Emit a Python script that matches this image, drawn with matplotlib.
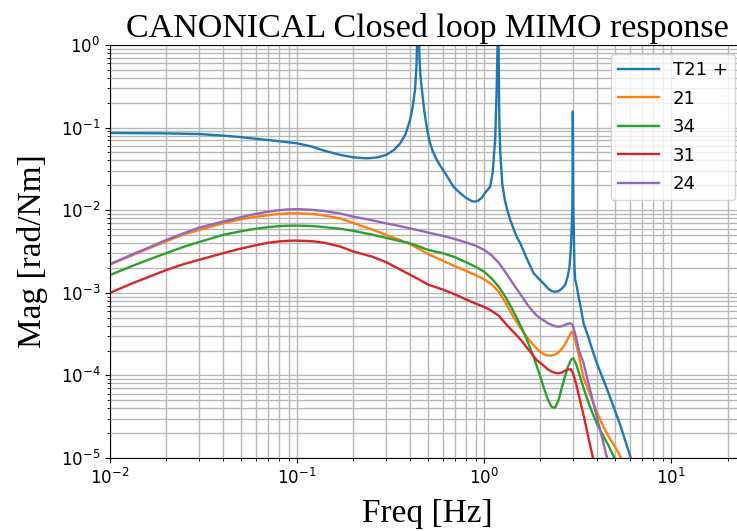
import numpy as np
import matplotlib
matplotlib.use("Agg")
import matplotlib.pyplot as plt

# values: freq in Hz, magnitude read as
# decades on the log axis (log10 of rad/Nm)
f_t21 = [0.01, 0.02, 0.03, 0.04, 0.05, 0.06, 0.07, 0.08, 0.1, 0.12, 0.14, 0.17, 0.2, 0.236,
         0.27, 0.3, 0.33, 0.356, 0.38, 0.402, 0.415, 0.427, 0.435, 0.44, 0.443, 0.447, 0.452,
         0.457, 0.465, 0.47, 0.48, 0.494, 0.51, 0.53, 0.555, 0.582, 0.63, 0.685, 0.75, 0.8, 0.85,
         0.886, 0.93, 0.97, 1.02, 1.077, 1.11, 1.145, 1.165, 1.18, 1.19, 1.195, 1.205, 1.22, 1.25,
         1.29, 1.33, 1.38, 1.45, 1.5, 1.56, 1.65, 1.75, 1.84, 1.99, 2.1, 2.2, 2.3, 2.4, 2.5, 2.6,
         2.71, 2.8, 2.86, 2.9, 2.93, 2.96, 2.975, 2.98, 2.99, 3.0, 3.04, 3.07, 3.13, 3.2, 3.3, 3.4,
         3.6, 3.8, 4.0, 4.3, 4.6, 4.92, 5.3, 5.7, 6.08, 6.6]
t21_dec = [-1.065, -1.07, -1.078, -1.097, -1.115, -1.135, -1.15, -1.165, -1.19, -1.23, -1.28,
           -1.33, -1.36, -1.372, -1.36, -1.33, -1.27, -1.19, -1.08, -0.906, -0.75, -0.545, -0.25,
           0.2, 1.0, 0.2, -0.2, -0.38, -0.545, -0.64, -0.82, -1.0, -1.16, -1.28, -1.38, -1.46,
           -1.58, -1.715, -1.8, -1.85, -1.885, -1.897, -1.885, -1.85, -1.78, -1.715, -1.55, -1.15,
           -0.6, 0.0, 1.0, 0.0, -0.9, -1.3, -1.68, -1.877, -2.0, -2.119, -2.25, -2.33, -2.4,
           -2.53, -2.66, -2.764, -2.845, -2.9, -2.95, -2.98, -2.987, -2.98, -2.95, -2.906, -2.8,
           -2.684, -2.5, -2.28, -2.0, -1.5, -0.807, -1.5, -2.0, -2.684, -2.845, -2.926, -3.05,
           -3.2, -3.37, -3.53, -3.7, -3.85, -4.03, -4.2, -4.38, -4.58, -4.8, -5.0, -5.25]

f_hump = [0.01, 0.013, 0.016, 0.02, 0.025, 0.03, 0.04, 0.05, 0.06, 0.07, 0.08, 0.09, 0.1, 0.12,
          0.14, 0.17, 0.2, 0.25, 0.3, 0.35, 0.4, 0.45, 0.5, 0.6, 0.7, 0.8, 0.9, 1.0, 1.1, 1.2, 1.3,
          1.4, 1.5, 1.6, 1.7, 1.8, 1.9, 2.0, 2.1, 2.2, 2.3, 2.4, 2.5, 2.6, 2.7, 2.8, 2.9, 2.95, 3.0,
          3.1, 3.2, 3.3, 3.4, 3.6, 3.8, 4.0, 4.3, 4.6, 5.0, 5.5, 6.0]

dec_21 = [-2.658, -2.55, -2.465, -2.377, -2.29, -2.24, -2.159, -2.11, -2.08, -2.06, -2.045,
          -2.038, -2.037, -2.045, -2.065, -2.1, -2.155, -2.23, -2.3, -2.355, -2.41, -2.47, -2.53,
          -2.61, -2.68, -2.735, -2.785, -2.835, -2.9, -2.99, -3.12, -3.25, -3.36, -3.46, -3.54,
          -3.61, -3.67, -3.715, -3.745, -3.76, -3.76, -3.745, -3.72, -3.68, -3.63, -3.56, -3.49,
          -3.47, -3.5, -3.62, -3.75, -3.9, -4.03, -4.17, -4.31, -4.44, -4.6, -4.73, -4.86, -5.03,
          -5.2]

dec_34 = [-2.785, -2.68, -2.6, -2.52, -2.44, -2.385, -2.3, -2.255, -2.225, -2.205, -2.193,
          -2.188, -2.187, -2.192, -2.205, -2.225, -2.25, -2.295, -2.335, -2.37, -2.4, -2.44,
          -2.48, -2.52, -2.57, -2.63, -2.685, -2.745, -2.83, -2.93, -3.05, -3.18, -3.31, -3.44,
          -3.58, -3.72, -3.87, -4.02, -4.17, -4.3, -4.385, -4.39, -4.3, -4.15, -4.02, -3.9, -3.82,
          -3.8, -3.795, -3.86, -3.96, -4.06, -4.15, -4.32, -4.46, -4.58, -4.72, -4.84, -5.01,
          -5.2, -5.4]

dec_31 = [-3.0, -2.89, -2.81, -2.724, -2.65, -2.6, -2.522, -2.465, -2.425, -2.395, -2.378,
          -2.37, -2.368, -2.375, -2.395, -2.44, -2.5, -2.56, -2.63, -2.71, -2.78, -2.84, -2.9,
          -2.96, -3.02, -3.08, -3.13, -3.17, -3.22, -3.28, -3.37, -3.45, -3.52, -3.59, -3.67,
          -3.74, -3.81, -3.85, -3.89, -3.93, -3.955, -3.97, -3.975, -3.965, -3.945, -3.93, -3.925,
          -3.95, -3.99, -4.1, -4.23, -4.36, -4.48, -4.74, -4.98, -5.2, -5.5, -5.8, -6.1, -6.4,
          -6.7]

dec_24 = [-2.652, -2.54, -2.455, -2.36, -2.275, -2.21, -2.139, -2.085, -2.045, -2.018, -2.0,
          -1.99, -1.987, -1.995, -2.01, -2.04, -2.078, -2.12, -2.16, -2.19, -2.22, -2.245, -2.27,
          -2.31, -2.35, -2.39, -2.43, -2.48, -2.55, -2.64, -2.75, -2.86, -2.96, -3.05, -3.14,
          -3.21, -3.27, -3.31, -3.34, -3.37, -3.39, -3.405, -3.41, -3.405, -3.39, -3.375, -3.37,
          -3.38, -3.42, -3.54, -3.68, -3.77, -3.85, -4.08, -4.3, -4.5, -4.78, -5.05, -5.4, -5.8,
          -6.2]

labels = ["T21 +", "21", "34", "31", "24"]

fig = plt.figure(figsize=(7.37, 5.31), dpi=100)
ax = fig.add_axes([110 / 737, 73 / 531, 634 / 737, 413 / 531])

ax.loglog(f_t21, np.power(10.0, t21_dec), lw=1.7, label=labels[0])
ax.loglog(f_hump, np.power(10.0, dec_21), lw=1.7, label=labels[1])
ax.loglog(f_hump, np.power(10.0, dec_34), lw=1.7, label=labels[2])
ax.loglog(f_hump, np.power(10.0, dec_31), lw=1.7, label=labels[3])
ax.loglog(f_hump, np.power(10.0, dec_24), lw=1.7, label=labels[4])

ax.set_xlim(1e-2, 24.5)
ax.set_ylim(1e-5, 1)
ax.grid(True, which="both", color="#b8b8b8", lw=1.0)
ax.tick_params(labelsize=12)

serif = "Liberation Serif"
ax.set_title("CANONICAL Closed loop MIMO response", fontsize=24.5, family=serif)
ax.set_xlabel("Freq [Hz]", fontsize=24, family=serif, labelpad=8)
ax.set_ylabel("Mag [rad/Nm]", fontsize=24, family=serif, labelpad=9)

ax.legend(loc="upper right", fontsize=13, handlelength=2.25, labelspacing=0.58)

fig.savefig("out.png", dpi=100)
